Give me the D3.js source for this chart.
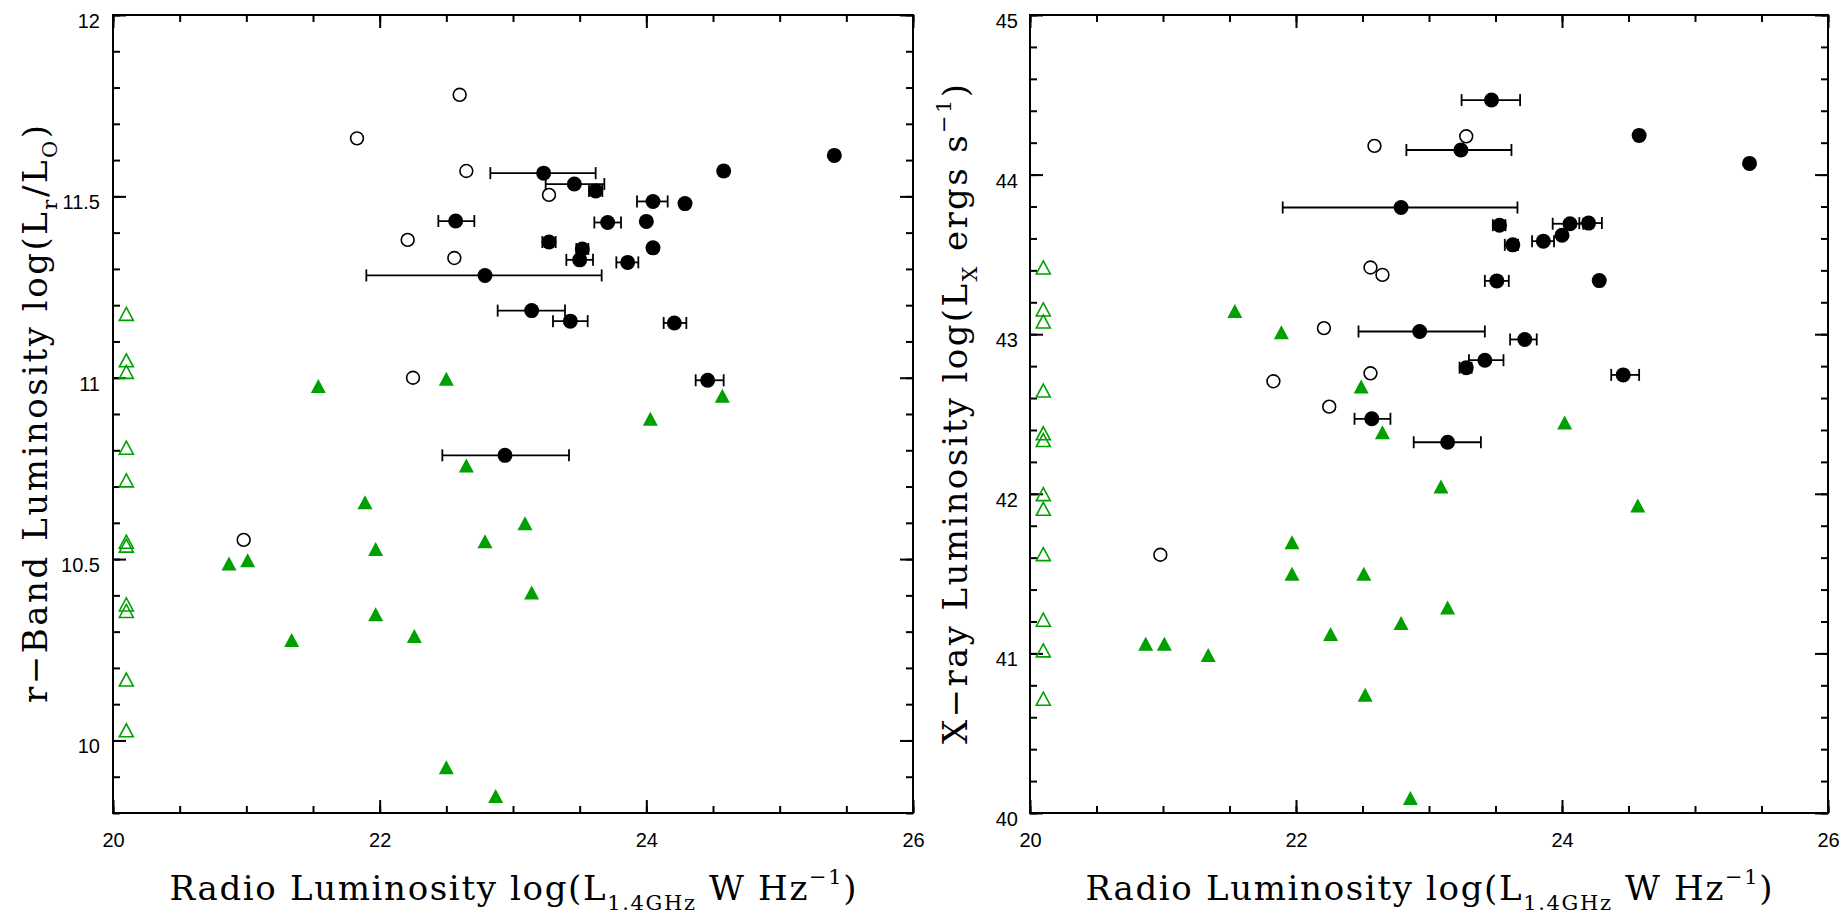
<!DOCTYPE html>
<html>
<head>
<meta charset="utf-8">
<script src="https://cdn.jsdelivr.net/npm/d3@7"></script>
<style>
  body { margin: 0; background: #fff; }
  .tick text { font-family: "Liberation Sans", Arial, sans-serif; font-size: 20px; fill: #000; }
  .tick line { stroke: #000; stroke-width: 2px; }
  .title { font-family: "DejaVu Serif", serif; font-size: 34px; fill: #000; }
</style>
</head>
<body>
<div id="chart"></div>
<script>
// ---------- data: left panel, r-band luminosity ----------
// detected sources (filled circles), with radio error range where there is one
var rDetX  = [23.23, 23.46, 23.62, 24.05, 24.29, 24.58, 25.41, 22.57, 23.71, 24.00, 23.27,
              23.52, 24.05, 23.50, 23.86, 22.79, 23.14, 23.43, 24.21, 24.46, 22.94];
var rDetY  = [11.564, 11.534, 11.515, 11.486, 11.48, 11.57, 11.613, 11.432, 11.428, 11.431, 11.374,
              11.355, 11.358, 11.325, 11.318, 11.282, 11.185, 11.156, 11.151, 10.993, 10.786];
var rDetLo = [22.83, 23.245, 23.57, 23.93, null, 24.55, null, 22.44, 23.61, null, 23.22,
              23.475, null, 23.40, 23.775, 21.90, 22.885, 23.30, 24.13, 24.37, 22.47];
var rDetHi = [23.62, 23.685, 23.67, 24.16, null, 24.61, null, 22.71, 23.81, null, 23.32,
              23.565, null, 23.60, 23.94, 23.665, 23.39, 23.56, 24.30, 24.58, 23.42];
// open circles
var rOpenX = [22.60, 21.83, 22.65, 23.27, 22.21, 22.56, 22.25, 20.98];
var rOpenY = [11.78, 11.66, 11.57, 11.504, 11.38, 11.33, 11.00, 10.553];
// green filled triangles
var rTriX = [21.54, 22.50, 24.57, 24.03, 22.65, 21.89, 23.09, 22.79, 21.97, 20.87, 21.01,
             23.14, 21.97, 21.34, 22.26, 22.50, 22.87];
var rTriY = [10.977, 10.997, 10.95, 10.887, 10.758, 10.657, 10.599, 10.549, 10.528, 10.488, 10.497,
             10.408, 10.348, 10.277, 10.288, 9.926, 9.847];
// green open triangles, all parked at the left edge
var rLimX = 20.1;
var rLimY = [11.176, 11.048, 11.016, 10.807, 10.717, 10.548, 10.537, 10.375, 10.357, 10.168, 10.028];

// ---------- data: right panel, X-ray luminosity ----------
var xDetX  = [23.47, 24.58, 25.41, 23.24, 22.79, 23.53, 24.06, 24.20, 24.00, 23.86,
              23.63, 23.51, 24.28, 22.93, 23.72, 23.42, 23.28, 24.46, 22.57, 23.14];
var xDetY  = [44.467, 44.245, 44.07, 44.154, 43.794, 43.683, 43.692, 43.696, 43.62, 43.583,
              43.56, 43.334, 43.336, 43.017, 42.967, 42.837, 42.79, 42.745, 42.47, 42.323];
var xDetLo = [23.245, 24.55, null, 22.83, 21.90, 23.48, 23.93, 24.13, null, 23.775,
              23.57, 23.42, null, 22.47, 23.61, 23.30, 23.23, 24.37, 22.44, 22.885];
var xDetHi = [23.685, 24.61, null, 23.62, 23.665, 23.575, 24.16, 24.30, null, 23.94,
              23.67, 23.60, null, 23.42, 23.81, 23.56, 23.32, 24.58, 22.71, 23.39];
var xOpenX = [23.28, 22.59, 22.56, 22.65, 22.21, 22.56, 21.83, 22.25, 20.98];
var xOpenY = [44.24, 44.18, 43.418, 43.372, 43.038, 42.755, 42.705, 42.546, 41.618];
var xTriX = [21.54, 21.89, 22.49, 22.65, 24.02, 23.09, 24.57, 21.97, 21.97, 22.51, 23.14,
             22.79, 22.26, 20.87, 21.01, 21.34, 22.52, 22.86];
var xTriY = [43.146, 43.013, 42.672, 42.386, 42.447, 42.046, 41.927, 41.697, 41.499, 41.499, 41.288,
             41.19, 41.121, 41.06, 41.06, 40.99, 40.741, 40.094];
var xLimX = 20.1;
var xLimY = [43.418, 43.155, 43.08, 42.647, 42.379, 42.337, 41.998, 41.906, 41.622, 41.211, 41.019, 40.716];

// ---------- tick labels ----------
var radioTicks = [20, 22, 24, 26];
var rBandTicks = [10, 10.5, 11, 11.5, 12];
var xrayTicks = [40, 41, 42, 43, 44, 45];

var green = "#00a000";
var fmt = function (d) { return String(d); };

var svg = d3.select("#chart").append("svg")
    .attr("width", 1845)
    .attr("height", 915);

// triangle centred on its box, w wide and h high
function tri(w, h) {
    return "M0," + (-h / 2) + "L" + (w / 2) + "," + (h / 2) + "L" + (-w / 2) + "," + (h / 2) + "Z";
}

function zip(xs, ys) {
    return xs.map(function (d, i) { return { x: d, y: ys[i] }; });
}

function drawPanel(p) {
    var x = d3.scaleLinear().domain([20, 26]).range([p.left, p.right]);
    var y = d3.scaleLinear().domain(p.yDomain).range([813, 15]);
    var g = svg.append("g");

    // minor + major ticks on all four sides, pointing inward
    var xMinor = d3.range(20, 26.001, 0.5);
    var yMinor = d3.range(p.yDomain[0], p.yDomain[1] + 1e-6, p.yMinorStep);

    function axis(a, tr) {
        var ax = g.append("g").attr("transform", tr).call(a);
        ax.select(".domain").remove();
        return ax;
    }
    axis(d3.axisBottom(x).tickValues(xMinor).tickSize(-7).tickFormat(""), "translate(0,813)");
    axis(d3.axisBottom(x).tickValues(radioTicks).tickSize(-13).tickPadding(20).tickFormat(fmt), "translate(0,813)");
    axis(d3.axisTop(x).tickValues(xMinor).tickSize(-7).tickFormat(""), "translate(0,15)");
    axis(d3.axisTop(x).tickValues(radioTicks).tickSize(-13).tickFormat(""), "translate(0,15)");

    var yl = axis(d3.axisLeft(y).tickValues(p.yTicks).tickSize(-13).tickPadding(p.labelPad).tickFormat(fmt),
        "translate(" + p.left + ",0)");
    yl.selectAll("text").attr("dy", "0.62em");
    axis(d3.axisLeft(y).tickValues(yMinor).tickSize(-7).tickFormat(""), "translate(" + p.left + ",0)");
    axis(d3.axisRight(y).tickValues(yMinor).tickSize(-7).tickFormat(""), "translate(" + p.right + ",0)");
    axis(d3.axisRight(y).tickValues(p.yTicks).tickSize(-13).tickFormat(""), "translate(" + p.right + ",0)");

    g.selectAll("g").attr("font-family", null).attr("font-size", null);

    // frame
    g.append("rect")
        .attr("x", p.left).attr("y", 15)
        .attr("width", p.right - p.left).attr("height", 798)
        .attr("fill", "none").attr("stroke", "#000").attr("stroke-width", 2);

    // open triangles (limits)
    g.selectAll(".lim").data(p.limY).enter().append("path")
        .attr("d", tri(14, 13))
        .attr("transform", function (d) { return "translate(" + x(p.limX) + "," + y(d) + ")"; })
        .attr("fill", "none").attr("stroke", green).attr("stroke-width", 1.6);

    // filled triangles
    g.selectAll(".tri").data(zip(p.triX, p.triY)).enter().append("path")
        .attr("d", tri(15, 14))
        .attr("transform", function (d) { return "translate(" + x(d.x) + "," + y(d.y) + ")"; })
        .attr("fill", green);

    // open circles
    g.selectAll(".open").data(zip(p.openX, p.openY)).enter().append("circle")
        .attr("cx", function (d) { return x(d.x); })
        .attr("cy", function (d) { return y(d.y); })
        .attr("r", 6.4)
        .attr("fill", "none").attr("stroke", "#000").attr("stroke-width", 1.6);

    // detections: error bars first, then the dots
    var det = p.detX.map(function (d, i) {
        return { x: d, y: p.detY[i], lo: p.detLo[i], hi: p.detHi[i] };
    });
    var withErr = det.filter(function (d) { return d.lo !== null; });
    var eb = g.selectAll(".err").data(withErr).enter().append("g")
        .attr("stroke", "#000").attr("stroke-width", 1.8);
    eb.append("line")
        .attr("x1", function (d) { return x(d.lo); })
        .attr("x2", function (d) { return x(d.hi); })
        .attr("y1", function (d) { return y(d.y); })
        .attr("y2", function (d) { return y(d.y); });
    eb.append("line")
        .attr("x1", function (d) { return x(d.lo); })
        .attr("x2", function (d) { return x(d.lo); })
        .attr("y1", function (d) { return y(d.y) - 6; })
        .attr("y2", function (d) { return y(d.y) + 6; });
    eb.append("line")
        .attr("x1", function (d) { return x(d.hi); })
        .attr("x2", function (d) { return x(d.hi); })
        .attr("y1", function (d) { return y(d.y) - 6; })
        .attr("y2", function (d) { return y(d.y) + 6; });

    g.selectAll(".det").data(det).enter().append("circle")
        .attr("cx", function (d) { return x(d.x); })
        .attr("cy", function (d) { return y(d.y); })
        .attr("r", 7.5)
        .attr("fill", "#000");

    // x title
    var xt = g.append("text").attr("class", "title")
        .attr("x", (p.left + p.right) / 2).attr("y", 900)
        .attr("text-anchor", "middle")
        .attr("textLength", 687).attr("lengthAdjust", "spacing");
    xt.append("tspan").text("Radio Luminosity log(L");
    xt.append("tspan").attr("font-size", 21).attr("dy", 10).text("1.4GHz");
    xt.append("tspan").attr("dy", -10).text(" W Hz");
    xt.append("tspan").attr("font-size", 21).attr("dy", -16).text("\u22121");
    xt.append("tspan").attr("dy", 16).text(")");

    // y title
    var yt = g.append("text").attr("class", "title")
        .attr("transform", "translate(" + p.yTitleX + ",414) rotate(-90)")
        .attr("text-anchor", "middle")
        .attr("textLength", p.yTitleLen).attr("lengthAdjust", "spacing");
    p.yTitle(yt);
}

drawPanel({
    left: 113, right: 913, labelPad: 13,
    yDomain: [9.8, 12], yMinorStep: 0.1, yTicks: rBandTicks,
    detX: rDetX, detY: rDetY, detLo: rDetLo, detHi: rDetHi,
    openX: rOpenX, openY: rOpenY,
    triX: rTriX, triY: rTriY,
    limX: rLimX, limY: rLimY,
    yTitleX: 47, yTitleLen: 578,
    yTitle: function (t) {
        t.append("tspan").text("r\u2212Band Luminosity log(L");
        t.append("tspan").attr("font-size", 21).attr("dy", 10).text("r");
        t.append("tspan").attr("dy", -10).text("/L");
        t.append("tspan").attr("font-size", 21).attr("dy", 10).text("O");
        t.append("tspan").attr("dy", -10).text(")");
    }
});

drawPanel({
    left: 1030, right: 1828, labelPad: 12,
    yDomain: [40, 45], yMinorStep: 0.2, yTicks: xrayTicks,
    detX: xDetX, detY: xDetY, detLo: xDetLo, detHi: xDetHi,
    openX: xOpenX, openY: xOpenY,
    triX: xTriX, triY: xTriY,
    limX: xLimX, limY: xLimY,
    yTitleX: 967, yTitleLen: 660,
    yTitle: function (t) {
        t.append("tspan").text("X\u2212ray Luminosity log(L");
        t.append("tspan").attr("font-size", 21).attr("dy", 10).text("X");
        t.append("tspan").attr("dy", -10).text(" ergs s");
        t.append("tspan").attr("font-size", 21).attr("dy", -16).text("\u22121");
        t.append("tspan").attr("dy", 16).text(")");
    }
});
</script>
</body>
</html>
